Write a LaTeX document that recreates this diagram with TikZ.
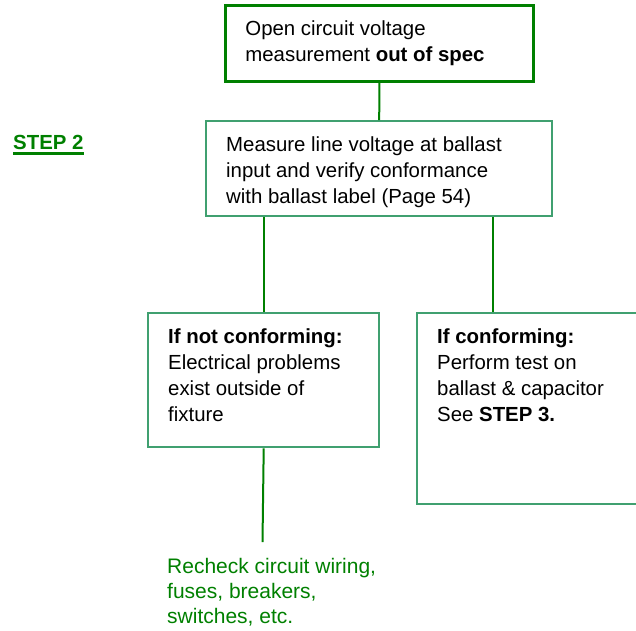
\documentclass[tikz,border=0pt]{standalone}
\usepackage{fontspec}
\setmainfont{Liberation Sans}
\usepackage{tikz}

\definecolor{linegreen}{RGB}{0,128,0}
\definecolor{boxgreen}{RGB}{64,160,112}

\newcommand{\boxlines}[3]{\parbox[c][#2pt][t]{#1pt}{\leftskip=20pt\vspace*{12.3pt}\strut#3}}

\begin{document}
\begin{tikzpicture}
  [x=1pt,y=-1pt,
   every node/.style={inner sep=0pt,font=\fontsize{20.4}{26}\selectfont},
   box/.style={draw=boxgreen,line width=2.4pt,anchor=north west},
   wire/.style={draw=linegreen,line width=2pt}]
  \useasboundingbox (0,0) rectangle (636,630);
  \clip (0,0) rectangle (636,630);

  \node[box,draw=linegreen,line width=2.8pt] (open) at (224,4)
    {\boxlines{308}{76}{Open circuit voltage\\measurement \textbf{out of spec}}};
  \node[box] (measure) at (205,120)
    {\boxlines{346}{95}{Measure line voltage at ballast\\input and verify conformance\\with ballast label (Page 54)}};
  \node[box] (notconf) at (147,312)
    {\boxlines{231}{134}{\textbf{If not conforming:}\\Electrical problems\\exist outside of\\fixture}};
  \node[box] (conf) at (416,312)
    {\boxlines{284}{191}{\textbf{If conforming:}\\Perform test on\\ballast \& capacitor\\See \textbf{STEP 3.}}};

  \node[text=linegreen,font=\fontsize{20.4}{26}\selectfont\bfseries,anchor=base west] (step) at (13,149) {STEP 2};
  \node[text=linegreen,font=\fontsize{21}{25}\selectfont,anchor=north west] (recheck) at (167,555.5)
    {\parbox[t]{240pt}{\strut Recheck circuit wiring,\\fuses, breakers,\\switches, etc.}};

  \coordinate (rtap) at (493,312);
  \coordinate (wireend) at (262.5,542);

  \draw[linegreen,line width=2.5pt] ([yshift=-4.5pt]step.base west) -- ([yshift=-4.5pt]step.base east);

  \draw[wire] (open.south) -- (measure.north);
  \draw[wire] (measure.south -| notconf.north) -- (notconf.north);
  \draw[wire] (measure.south -| rtap) -- (rtap);
  \draw[wire] (notconf.south) -- (wireend);

\end{tikzpicture}
\end{document}
